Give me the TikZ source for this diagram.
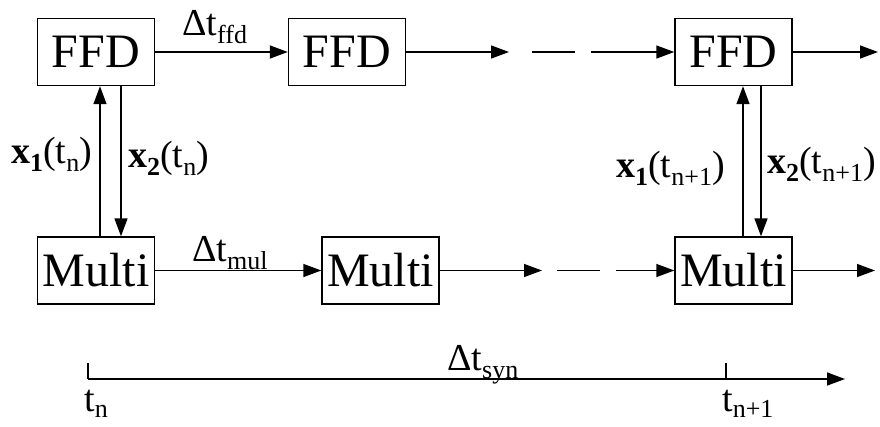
\documentclass[tikz,border=0pt]{standalone}
\usepackage{fontspec}
\setmainfont{Liberation Serif}
\usetikzlibrary{arrows.meta}
\newcommand\lbl{\fontsize{38}{38}\selectfont}
\newcommand\boxfont{\fontsize{48}{48}\selectfont}
\newcommand\sbx[1]{\raisebox{-8pt}{\fontsize{26}{26}\selectfont #1}}
\newcommand\sbt[1]{\raisebox{-6pt}{\fontsize{26}{26}\selectfont #1}}
\tikzset{
  blk/.style={draw, line width=1.4pt, minimum width=117pt, minimum height=67pt, inner sep=0pt, font=\boxfont},
  arr/.style={line width=1.4pt, -{Triangle[length=18pt,width=13pt]}},
  ln/.style={line width=1.4pt},
  txt/.style={inner sep=0pt, anchor=base west, font=\lbl}
}
\begin{document}
\begin{tikzpicture}[x=1pt,y=-1pt]
\useasboundingbox (0,0) rectangle (880,426);
% boxes
\node[blk] (F1) at (96,52) {FFD};
\node[blk] (F2) at (347,52) {FFD};
\node[blk] (F3) at (733.5,52) {FFD};
\node[blk] (M1) at (96,270.5) {Multi};
\node[blk] (M2) at (380.5,270.5) {Multi};
\node[blk] (M3) at (733.5,270.5) {Multi};
% helper coordinates
\coordinate (fa) at (509,52);
\coordinate (fb) at (532,52);
\coordinate (fc) at (575,52);
\coordinate (fd) at (591,52);
\coordinate (fe) at (878,52);
\coordinate (ma) at (542,270.5);
\coordinate (mb) at (557,270.5);
\coordinate (mc) at (600,270.5);
\coordinate (md) at (616,270.5);
\coordinate (me) at (875,270.5);
% top row
\draw[arr] (F1.east) -- (F2.west);
\draw[arr] (F2.east) -- (fa);
\draw[ln] (fb) -- (fc);
\draw[arr] (fd) -- (F3.west);
\draw[arr] (F3.east) -- (fe);
% bottom row
\draw[arr] (M1.east) -- (M2.west);
\draw[arr] (M2.east) -- (ma);
\draw[ln] (mb) -- (mc);
\draw[arr] (md) -- (M3.west);
\draw[arr] (M3.east) -- (me);
% verticals
\draw[arr] ([xshift=4pt]M1.north) -- ([xshift=4pt]F1.south);
\draw[arr] ([xshift=25pt]F1.south) -- ([xshift=25pt]M1.north);
\draw[arr] ([xshift=9.5pt]M3.north) -- ([xshift=9.5pt]F3.south);
\draw[arr] ([xshift=27.5pt]F3.south) -- ([xshift=27.5pt]M3.north);
% labels
\node[txt] (lffd) at (182,35) {Δt\sbx{ffd}};
\node[txt] (lmul) at (192,261) {Δt\sbx{mul}};
\node[txt] (lx1a) at (11,163) {\textbf{x}\sbx{\textbf{1}}(t\sbx{n})};
\node[txt] (lx2a) at (128,167) {\textbf{x}\sbx{\textbf{2}}(t\sbx{n})};
\node[txt] (lx1b) at (616,177) {\textbf{x}\sbx{\textbf{1}}(t\sbx{n+1})};
\node[txt] (lx2b) at (767,173) {\textbf{x}\sbx{\textbf{2}}(t\sbx{n+1})};
% timeline
\coordinate (T0) at (88,379);
\coordinate (T0t) at (88,363);
\coordinate (T1) at (726,379);
\coordinate (T1t) at (726,363);
\coordinate (Tend) at (845,379);
\draw[ln] (T0t) -- (T0);
\draw[arr] (T0) -- (Tend);
\draw[ln] (T1t) -- (T1);
\node[txt] (lsyn) at (447,370) {Δt\sbx{syn}};
\node[txt] (ltn) at (84,411) {t\sbt{n}};
\node[txt] (ltn1) at (722,411) {t\sbt{n+1}};
\end{tikzpicture}
\end{document}
